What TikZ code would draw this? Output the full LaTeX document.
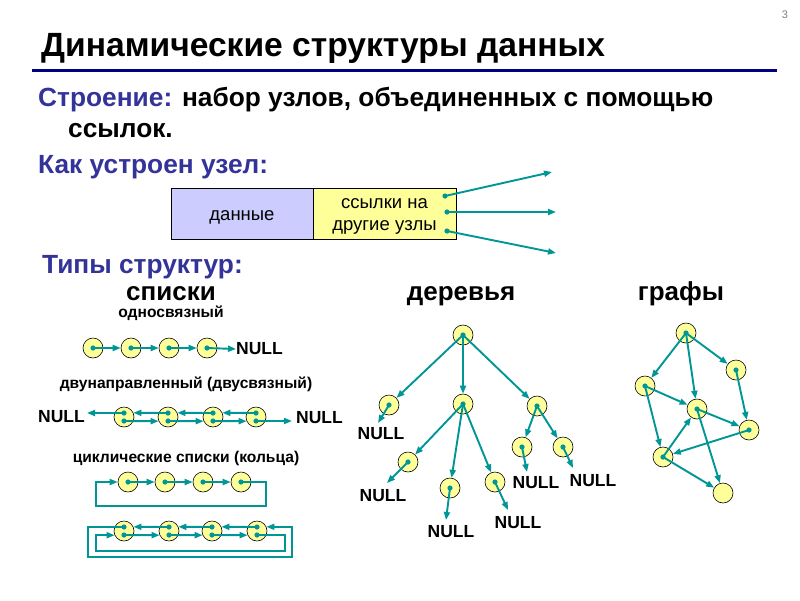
\documentclass[tikz,border=0pt]{standalone}
\usepackage{fontspec}
\setmainfont{Liberation Sans}
\usetikzlibrary{arrows.meta,calc}
\definecolor{tealc}{RGB}{0,150,150}
\definecolor{blt}{RGB}{51,51,153}
\definecolor{navyc}{RGB}{0,0,128}
\definecolor{ylw}{RGB}{255,255,153}
\definecolor{lav}{RGB}{204,204,255}
\begin{document}
\begin{tikzpicture}[x=1pt,y=-1pt,
  cn/.style={circle,draw=black,line width=0.6pt,fill=ylw,minimum size=20pt,inner sep=0pt},
  arr/.style={draw=tealc,line width=1.9pt,-{Triangle[length=8pt,width=6pt]}},
  nul/.style={font=\bfseries\fontsize{17.5}{17.5}\selectfont,inner sep=0pt},
  hd/.style={font=\bfseries\fontsize{26}{26}\selectfont,inner sep=0pt},
  sub/.style={font=\bfseries\fontsize{15.6}{15.6}\selectfont,inner sep=0pt,anchor=base},
  big/.style={font=\bfseries\fontsize{26.3}{26.3}\selectfont,inner sep=0pt,anchor=base west},
  boxc/.style={draw=black,line width=0.6pt,minimum height=51pt,inner sep=0pt},
  boxt/.style={inner sep=0pt,align=center,font=\fontsize{18.5}{22}\selectfont},
]
\useasboundingbox (0,0) rectangle (800,600);
\fill[white] (0,0) rectangle (800,600);
\newcommand{\tdot}[1]{\fill[tealc] (#1) circle[radius=2.6pt];}

% title
\node[anchor=base west,inner sep=0pt,font=\bfseries\fontsize{33.6}{33.6}\selectfont] (title) at (41,56) {Динамические структуры данных};
\draw[navyc,line width=3pt] (32,70) -- (777,70);
\node[font=\fontsize{11}{11}\selectfont,text=gray] (pg) at (785,15) {3};

\node[big] (l1) at (38,106) {\textcolor{blt}{Строение:} набор узлов, объединенных с помощью};
\node[big] (l2) at (68,137) {ссылок.};
\node[big,text=blt] (l3) at (38,173) {Как устроен узел:};

% node box
\node[boxc,fill=lav,minimum width=142pt] (data) at (242,213.5) {};
\node[boxc,fill=ylw,minimum width=143pt] (links) at (384.5,213.5) {};
\node[boxt] (datat) at ($(data.center)+(0,4)$) {данные};
\node[boxt] (linkst) at ($(links.center)+(0,3)$) {ссылки на\\другие узлы};
\coordinate (b1) at (445,196); \coordinate (b2) at (447,212); \coordinate (b3) at (447,231);
\coordinate (e1) at (552,172); \coordinate (e2) at (556,212); \coordinate (e3) at (556,253);
\draw[arr] (b1) -- (e1); \draw[arr] (b2) -- (e2); \draw[arr] (b3) -- (e3);
\tdot{b1}\tdot{b2}\tdot{b3}

\node[big,text=blt] (l4) at (42,273) {Типы структур:};
\node[hd,anchor=base] (h1) at (171,300) {списки};
\node[hd,anchor=base] (h2) at (461,300) {деревья};
\node[hd,anchor=base] (h3) at (681,300) {графы};

% singly linked
\node[sub] (t1) at (171,317) {односвязный};
\foreach \i/\x in {1/93,2/131,3/169,4/207} \node[cn] (s\i) at (\x,348) {};
\draw[arr] (s1.center) -- (s2); \draw[arr] (s2.center) -- (s3); \draw[arr] (s3.center) -- (s4);
\node[nul,anchor=west] (sn) at (236,349) {NULL};
\draw[arr] (s4.center) -- (sn.west);
\foreach \i in {1,...,4} {\tdot{s\i.center}}

% doubly linked
\node[sub] (t2) at (186,388) {двунаправленный (двусвязный)};
\foreach \i/\x in {1/124,2/168,3/213,4/256} \node[cn] (d\i) at (\x,417) {};
\foreach \i in {1,...,4} {\coordinate (d\i u) at ($(d\i.center)+(0,-4)$); \coordinate (d\i l) at ($(d\i.center)+(0,4)$);}
\draw[arr] (d2u) -- (d1.24); \draw[arr] (d3u) -- (d2.24); \draw[arr] (d4u) -- (d3.24);
\draw[arr] (d1l) -- (d2.204); \draw[arr] (d2l) -- (d3.204); \draw[arr] (d3l) -- (d4.204);
\node[nul,anchor=east] (dnl) at (85,417) {NULL};
\node[nul,anchor=west] (dnr) at (296,418) {NULL};
\draw[arr] (d1u) -- ($(dnl.east |- d1u)+(2,0)$);
\draw[arr] (d4l) -- ($(dnr.west |- d4l)+(-4,0)$);
\foreach \i in {1,...,4} {\tdot{d\i u}\tdot{d\i l}}

% cyclic singly
\node[sub] (t3) at (186,462) {циклические списки (кольца)};
\foreach \i/\x in {1/128,2/165,3/203,4/241} \node[cn] (c\i) at (\x,482) {};
\draw[arr] (c1.center) -- (c2); \draw[arr] (c2.center) -- (c3); \draw[arr] (c3.center) -- (c4);
\coordinate (cr) at (266,506); \coordinate (cl) at (96,506);
\draw[arr] (c4.center) -| (cr) -- (cl) |- (c1.west);
\foreach \i in {1,...,4} {\tdot{c\i.center}}

% cyclic doubly
\foreach \i/\x in {1/124,2/169,3/212,4/257} \node[cn] (k\i) at (\x,531) {};
\foreach \i in {1,...,4} {\coordinate (k\i u) at ($(k\i.center)+(0,-4)$); \coordinate (k\i l) at ($(k\i.center)+(0,4)$);}
\draw[arr] (k2u) -- (k1.24); \draw[arr] (k3u) -- (k2.24); \draw[arr] (k4u) -- (k3.24);
\draw[arr] (k1l) -- (k2.204); \draw[arr] (k2l) -- (k3.204); \draw[arr] (k3l) -- (k4.204);
\coordinate (obl) at (88,557); \coordinate (obr) at (292,557);
\coordinate (ibl) at (96,551); \coordinate (ibr) at (285,551);
\draw[arr] (k1u) -| (obl) -- (obr) |- (k4.24);
\draw[arr] (k4l) -| (ibr) -- (ibl) |- (k1.204);
\foreach \i in {1,...,4} {\tdot{k\i u}\tdot{k\i l}}

% tree
\node[cn] (tr) at (463,335) {};
\node[cn] (ta) at (389,405) {};
\node[cn] (tb) at (463,404) {};
\node[cn] (tc) at (537,406) {};
\node[cn] (td) at (408,462) {};
\node[cn] (te) at (450,488) {};
\node[cn] (tf) at (495,482) {};
\node[cn] (tg) at (522,447) {};
\node[cn] (th) at (563,447) {};
\draw[arr] (tr.center) -- (ta); \draw[arr] (tr.center) -- (tb); \draw[arr] (tr.center) -- (tc);
\draw[arr] (tb.center) -- (td); \draw[arr] (tb.center) -- (te); \draw[arr] (tb.center) -- (tf);
\draw[arr] (tc.center) -- (tg); \draw[arr] (tc.center) -- (th);
\coordinate (na) at (378,423); \coordinate (nd) at (387,483); \coordinate (ne) at (446,520);
\coordinate (nf) at (508,510); \coordinate (ng) at (527,472); \coordinate (nh) at (573,468);
\draw[arr] (ta.center) -- (na); \draw[arr] (td.center) -- (nd); \draw[arr] (te.center) -- (ne);
\draw[arr] (tf.center) -- (nf); \draw[arr] (tg.center) -- (ng); \draw[arr] (th.center) -- (nh);
\node[nul] (Na) at (381,434) {NULL};
\node[nul] (Nd) at (383,496) {NULL};
\node[nul] (Ne) at (451,532) {NULL};
\node[nul] (Nf) at (518,523) {NULL};
\node[nul] (Ng) at (536,483) {NULL};
\node[nul] (Nh) at (593,481) {NULL};
\foreach \n in {tr,ta,tb,tc,td,te,tf,tg,th} {\tdot{\n.center}}

% graph
\node[cn] (g1) at (686,333) {};
\node[cn] (g2) at (736,370) {};
\node[cn] (g3) at (645,386) {};
\node[cn] (g4) at (697,409) {};
\node[cn] (g5) at (749,430) {};
\node[cn] (g6) at (663,457) {};
\node[cn] (g7) at (723,493) {};
\draw[arr] (g1.center) -- (g3); \draw[arr] (g1.center) -- (g4); \draw[arr] (g1.center) -- (g2);
\draw[arr] (g2.center) -- (g5); \draw[arr] (g3.center) -- (g4); \draw[arr] (g3.center) -- (g6);
\draw[arr] (g4.center) -- (g5); \draw[arr] (g4.center) -- (g7); \draw[arr] (g5.center) -- (g6);
\draw[arr] (g6.center) -- (g4); \draw[arr] (g6.center) -- (g7);
\foreach \n in {g1,g2,g3,g4,g5,g6} {\tdot{\n.center}}
\end{tikzpicture}
\end{document}
